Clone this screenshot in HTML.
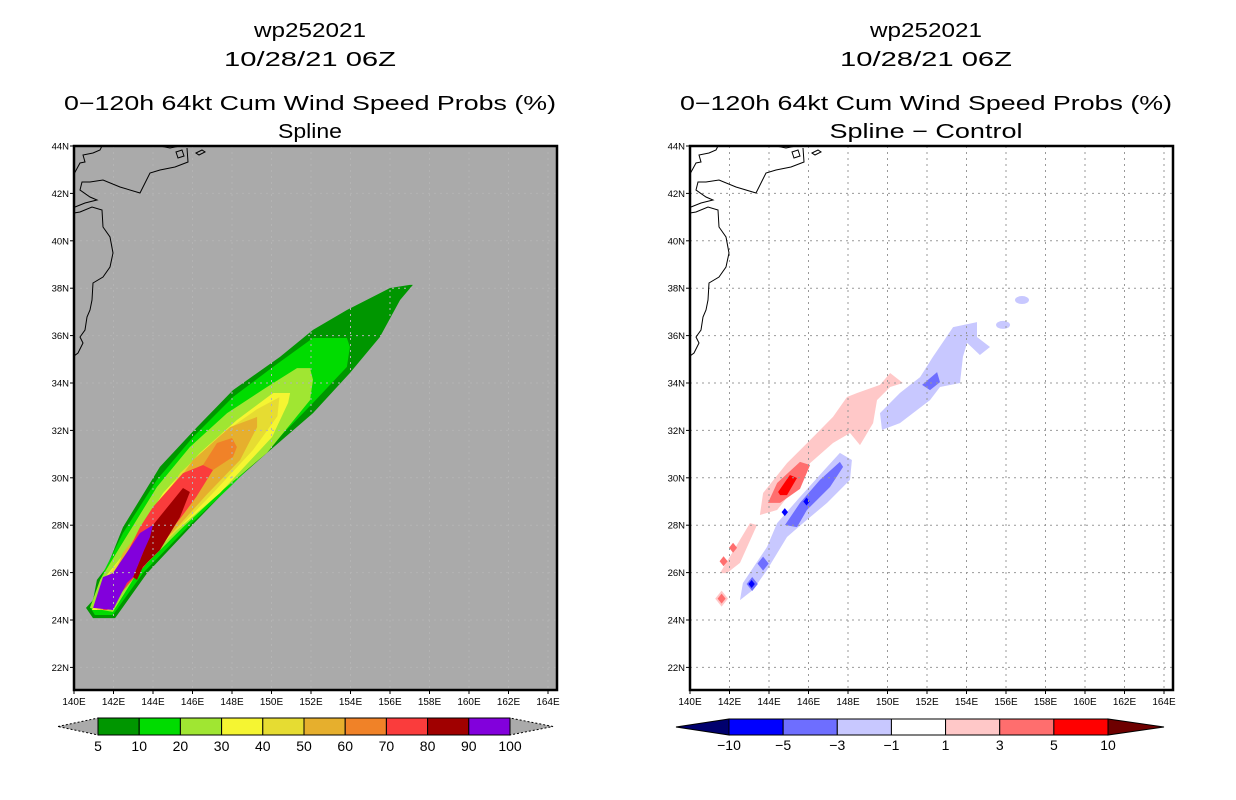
<!DOCTYPE html>
<html><head><meta charset="utf-8"><style>
html,body{margin:0;padding:0;background:#fff;}
svg{display:block;font-family:"Liberation Sans",sans-serif;}
</style></head><body>
<svg id="chart" width="1236" height="800" viewBox="0 0 1236 800" xmlns="http://www.w3.org/2000/svg">
<g id="root"></g>
</svg>
<script>
// ---- axis data ----
const latTicks = [22,24,26,28,30,32,34,36,38,40,42,44];
const lonTicks = [140,142,144,146,148,150,152,154,156,158,160,162,164];
const leftLevels = ["5","10","20","30","40","50","60","70","80","90","100"];
const leftColors = ["#009600","#00dc00","#a0e632","#f5f532","#e6dc32","#e6af2d","#f08228","#fa3c3c","#a00000","#8200dc"];
const rightLevels = ["-10","-5","-3","-1","1","3","5","10"];
const rightColors = ["#0000ff","#6e6eff","#c8c8ff","#ffffff","#ffc8c8","#ff6e6e","#ff0000"];
// ---- left panel contour polygons (lon,lat pairs), lowest level first ----
const p5 = [[140.61,24.51],[140.96,24.08],[142.08,24.08],[143.70,25.98],[146.10,28.10],[148.05,29.78],[149.77,31.05],[152.10,32.73],[153.97,34.42],[155.49,35.94],[156.51,37.50],[157.16,38.14],[157.01,38.14],[156.00,38.01],[153.82,37.08],[152.10,36.24],[150.43,35.10],[148.05,33.70],[146.23,32.14],[144.35,30.46],[142.48,27.92],[141.67,26.24],[141.16,25.69],[140.96,24.84]];
const p10 = [[153.82,35.90],[152.10,35.90],[150.08,34.68],[148.05,33.41],[146.03,31.72],[144.20,29.91],[142.48,27.67],[141.47,25.98],[140.81,24.55],[141.06,24.21],[141.97,24.21],[143.49,25.98],[145.85,28.00],[147.90,29.61],[149.92,31.30],[152.10,33.16],[153.82,34.68],[153.97,35.52]];
const p20 = [[151.95,34.63],[151.29,34.63],[149.77,33.83],[147.75,32.73],[145.87,31.30],[144.20,29.61],[142.33,27.08],[141.32,25.69],[140.81,24.51],[141.97,24.34],[143.19,25.98],[145.50,27.90],[147.54,29.49],[149.77,31.05],[151.95,33.28],[152.10,34.13]];
const p30 = [[150.94,33.58],[150.08,33.58],[148.25,32.44],[146.38,31.05],[144.51,29.36],[142.68,26.95],[141.47,25.69],[140.91,24.42],[141.92,24.42],[142.99,25.98],[145.22,27.80],[147.39,29.36],[150.03,31.72],[150.84,33.16]];
const p40 = [[150.40,33.40],[149.27,32.90],[147.39,31.80],[145.37,30.20],[143.34,27.67],[141.82,25.98],[141.16,24.42],[141.82,24.42],[142.84,25.98],[145.10,27.70],[147.04,29.36],[149.06,31.17],[150.30,32.60]];
const p50 = [[149.27,32.57],[147.90,32.14],[146.03,30.75],[144.20,28.64],[142.48,26.83],[141.32,24.42],[141.72,24.42],[142.68,25.98],[145.00,27.70],[146.73,29.30],[148.41,30.75],[149.27,32.14]];
const p60 = [[148.00,31.68],[147.24,31.47],[146.53,30.54],[147.04,30.33],[148.05,30.88],[148.25,31.30]];
const p70 = [[146.53,30.54],[145.52,30.20],[144.00,28.77],[143.34,27.92],[142.18,25.98],[141.47,24.42],[141.67,24.42],[143.00,25.75],[143.60,26.30],[144.60,27.50],[145.30,28.20],[146.20,29.20],[147.04,30.33]];
const p80 = [[145.52,29.57],[144.00,28.01],[143.49,26.83],[142.99,25.81],[143.19,25.69],[143.49,26.24],[144.35,26.95],[145.37,28.35],[145.87,29.40]];
const p90 = [[144.00,28.01],[143.34,27.67],[141.97,25.98],[141.47,25.81],[140.96,24.51],[141.97,24.42],[142.68,25.56],[142.99,25.81],[143.49,26.83],[143.85,27.50]];
const leftPolys = [p5,p10,p20,p30,p40,p50,p60,p70,p80,p90];
// ---- right panel difference polygons ----
const dPink = [[143.54,28.43],[143.70,29.36],[144.91,30.62],[146.08,31.59],[147.24,32.57],[147.95,33.41],[148.46,33.58],[149.62,33.92],[150.13,34.42],[150.78,34.00],[150.13,33.83],[149.47,33.28],[149.27,32.31],[148.61,31.38],[148.10,31.89],[147.24,31.47],[146.08,30.62],[145.22,29.49],[144.41,28.64]];
const dPink2 = [[141.52,25.98],[143.04,28.09],[143.39,28.01],[142.53,26.41],[141.87,25.98]];
const dRed3 = [[143.95,28.94],[144.41,29.78],[145.57,30.67],[146.08,30.54],[145.57,29.53],[144.56,28.94]];
const dRed5 = [[144.46,29.40],[145.06,30.12],[145.42,29.99],[144.91,29.27],[144.56,29.27]];
const dBlue1 = [[142.53,24.84],[142.68,25.56],[143.90,27.08],[144.41,28.09],[145.57,29.19],[146.94,30.46],[147.59,31.05],[148.20,30.75],[148.10,29.91],[146.94,28.94],[145.72,28.09],[144.91,27.50],[143.90,26.11],[143.19,25.27]];
const dBlue1b = [[149.62,32.73],[150.63,33.58],[151.65,34.25],[152.30,35.10],[153.32,36.36],[154.53,36.57],[154.53,35.94],[155.19,35.52],[154.68,35.18],[154.03,35.69],[153.82,35.10],[153.67,34.00],[152.66,33.83],[152.15,33.28],[150.63,32.31],[149.72,32.02]];
const dBlue3 = [[144.81,28.01],[145.57,28.94],[146.58,29.91],[147.59,30.67],[147.75,30.46],[147.09,29.61],[145.92,28.64],[145.42,27.92]];
const dBlue3b = [[151.75,33.92],[152.51,34.46],[152.66,34.04],[152.15,33.70]];
// small diamonds: [lon, lat]
const diamondsRed3 = [[141.70,26.48],[142.18,27.05],[141.60,24.90]];
const diamondsPink = [[141.60,24.90]];
const diamondsBlue3 = [[143.70,26.38],[143.15,25.52]];
const diamondsBlue5 = [[143.12,25.52],[145.90,29.00],[144.80,28.55]];
const blobsBlue1 = [[155.85,36.45],[156.81,37.50]];

const NS="http://www.w3.org/2000/svg";
const root=document.getElementById('root');
function el(tag,attrs,parent){const e=document.createElementNS(NS,tag);for(const k in attrs)e.setAttribute(k,attrs[k]);(parent||root).appendChild(e);return e;}
const LON0=140, PXLON=19.75, LAT0=44, PXLAT=23.7, TOP=146, BOT=690;
function xs(off,lon){return off+74+(lon-LON0)*PXLON;}
function ys(lat){return TOP+(LAT0-lat)*PXLAT;}
function pts(off,poly){return poly.map(p=>xs(off,p[0]).toFixed(1)+','+ys(p[1]).toFixed(1)).join(' ');}

const coast = "M74,174 L80,163 L85,162 L83,155 L93,153 L100,150 L102,146 M160,146 L170,148 L180,146 M187,148 L188,162 L175,167 L160,170 L150,173 L140,193 L120,187 L103,180 L90,182 L82,182 L80,190 L90,197 L97,200 L85,203 L75,207 M74,213 L80,212 L92,207 L102,210 L103,227 L110,237 L113,253 L110,267 L103,277 L93,283 L92,300 L90,310 L87,317 L85,330 L80,337 L83,343 L78,353 L74,356 M176,152 L182,150 L184,156 L178,158 Z M196,153 L202,150 L205,152 L199,155 Z";

function panel(off, name, bg, titleLast){
  const g=el('g',{});
  const tl=[["wp252021",30,112],["10/28/21 06Z",59,172],["0\u2212120h 64kt Cum Wind Speed Probs (%)",103,492],[titleLast,131,titleLast.length>8?193:64]];
  const tnames=['storm-id-title','date-title','product-title','method-title'];
  tl.forEach((t,i)=>{const e=el('text',{x:off+310,y:t[1]+7,'text-anchor':'middle','font-size':20,textLength:t[2],lengthAdjust:'spacingAndGlyphs',fill:'#000'},g);e.textContent=t[0];});
  const plot=el('g',{},g);
  
  
  el('rect',{x:off+74,y:TOP,width:483,height:BOT-TOP,fill:bg},plot);
  el('clipPath',{id:'clip'+off},plot);
  const cp=document.getElementById('clip'+off);
  el('rect',{x:off+74,y:TOP,width:483,height:BOT-TOP},cp);
  const cg=el('g',{'clip-path':'url(#clip'+off+')'},plot);
  return {g,cg,plot};
}
function frame(off,g,cg,gridColor){
  lonTicks.forEach(l=>{if(l>140)el('line',{x1:xs(off,l),x2:xs(off,l),y1:TOP,y2:BOT,stroke:gridColor,'stroke-dasharray':'2,4','stroke-width':1},cg);});
  latTicks.forEach(l=>{if(l<44)el('line',{x1:off+74,x2:off+557,y1:ys(l),y2:ys(l),stroke:gridColor,'stroke-dasharray':'2,4','stroke-width':1},cg);});
  const cst=el('path',{d:coast,transform:'translate('+off+',0)',fill:'none',stroke:'#000','stroke-width':1},cg);
  
  
  el('rect',{x:off+74,y:TOP,width:483,height:BOT-TOP,fill:'none',stroke:'#000','stroke-width':2.5},g);
  latTicks.forEach(l=>{
    el('line',{x1:off+70,x2:off+74,y1:ys(l),y2:ys(l),stroke:'#000'},g);
    const t=el('text',{x:off+69,y:ys(l)+3.5,'text-anchor':'end','font-size':9.5,fill:'#000'},g);
    
    
    t.textContent=l+'N';
  });
  lonTicks.forEach(l=>{
    el('line',{x1:xs(off,l),x2:xs(off,l),y1:BOT,y2:BOT+4,stroke:'#000'},g);
    const t=el('text',{x:xs(off,l),y:BOT+15,'text-anchor':'middle','font-size':10,fill:'#000'},g);
    
    
    t.textContent=l+'E';
  });
}
// ---------- LEFT ----------
{
  const {g,cg}=panel(0,'left-panel-spline','#aaaaaa','Spline');
  leftPolys.forEach((poly,i)=>{
    const p=el('polygon',{points:pts(0,poly),fill:leftColors[i]},cg);
    
    
  });
  frame(0,g,cg,'#b4b4b4');
  const cb=el('g',{},g);
  
  
  const x0=98,x1=510,y0=718,y1=735,w=(x1-x0)/leftColors.length;
  el('polygon',{points:`58,726.5 ${x0},${y0} ${x0},${y1}`,fill:'#aaaaaa',stroke:'#000','stroke-dasharray':'2,2'},cb);
  el('polygon',{points:`553,726.5 ${x1},${y0} ${x1},${y1}`,fill:'#aaaaaa',stroke:'#000','stroke-dasharray':'2,2'},cb);
  leftColors.forEach((c,i)=>{const r=el('rect',{x:x0+i*w,y:y0,width:w,height:y1-y0,fill:c,stroke:'#000','stroke-width':1},cb);});
  leftLevels.forEach((l,i)=>{const t=el('text',{x:x0+i*w,y:751,'text-anchor':'middle','font-size':14,fill:'#000'},cb);t.textContent=l;});
}
// ---------- RIGHT ----------
{
  const off=616;
  const {g,cg}=panel(off,'right-panel-difference','#ffffff','Spline \u2212 Control');
  function poly(a,c,n){const p=el('polygon',{points:pts(off,a),fill:c},cg);}
  function dia(list,r,c,n){list.forEach(d=>{const cx=xs(off,d[0]),cy=ys(d[1]);const p=el('polygon',{points:`${cx},${cy-r} ${cx+r*0.8},${cy} ${cx},${cy+r} ${cx-r*0.8},${cy}`,fill:c},cg);});}
  poly(dPink,'#ffc8c8','diff-positive-1');
  poly(dPink2,'#ffc8c8','diff-positive-1-south');
  dia(diamondsPink,8,'#ffc8c8','diff-positive-1-spot');
  poly(dRed3,'#ff6e6e','diff-positive-3');
  poly(dRed5,'#ff0000','diff-positive-5');
  dia(diamondsRed3,5,'#ff6e6e','diff-positive-3-spot');
  poly(dBlue1,'#c8c8ff','diff-negative-1');
  poly(dBlue1b,'#c8c8ff','diff-negative-1-north');
  blobsBlue1.forEach(b=>{const e=el('ellipse',{cx:xs(off,b[0]),cy:ys(b[1]),rx:7,ry:4,fill:'#c8c8ff'},cg);});
  poly(dBlue3,'#6e6eff','diff-negative-3');
  poly(dBlue3b,'#6e6eff','diff-negative-3-north');
  dia(diamondsBlue3,7,'#6e6eff','diff-negative-3-spot');
  dia(diamondsBlue5,4,'#0000ff','diff-negative-5-spot');
  frame(off,g,cg,'#999999');
  const cb=el('g',{},g);
  
  
  const x0=729,x1=1108,y0=719,y1=735,w=(x1-x0)/rightColors.length;
  el('polygon',{points:`676,727 ${x0},${y0} ${x0},${y1}`,fill:'#00006e',stroke:'#000'},cb);
  el('polygon',{points:`1164,727 ${x1},${y0} ${x1},${y1}`,fill:'#6e0000',stroke:'#000'},cb);
  rightColors.forEach((c,i)=>{const r=el('rect',{x:x0+i*w,y:y0,width:w,height:y1-y0,fill:c,stroke:'#000','stroke-width':1},cb);});
  rightLevels.forEach((l,i)=>{const t=el('text',{x:x0+i*w,y:750,'text-anchor':'middle','font-size':14,fill:'#000'},cb);t.textContent=l.replace('-','\u2212');});
}
</script>
</body></html>
